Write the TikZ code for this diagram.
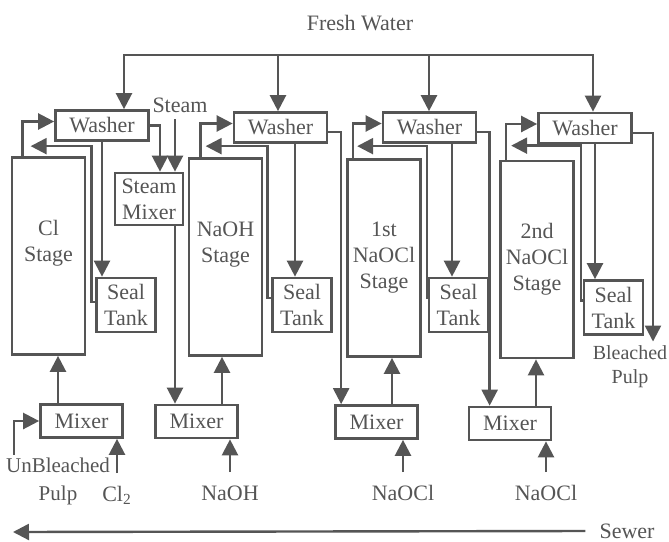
\documentclass[tikz,border=0pt]{standalone}
\usepackage{fontspec}
\setmainfont{Liberation Serif}
\usetikzlibrary{arrows.meta}
\definecolor{ink}{HTML}{555555}

\begin{document}
\begin{tikzpicture}[x=0.5pt,y=-0.5pt,
 every node/.style={text=ink,font=\fontsize{11}{13}\selectfont},
 unit/.style={draw=ink,line width=1.35pt,align=center,inner sep=1pt},
 washer/.style={unit,minimum width=46.5pt,minimum height=15pt},
 stage/.style={unit,minimum width=36.5pt,minimum height=98.5pt},
 stagetext/.style={align=center},
 sealtank/.style={unit,minimum width=29.5pt,minimum height=27pt},
 mixer/.style={unit,minimum width=41pt,minimum height=16.5pt},
 feed/.style={inner sep=1pt,outer sep=5pt,text height=8pt,text depth=2pt},
 pipe/.style={draw=ink,line width=1.2pt},
 flow/.style={pipe,-{Triangle[length=8pt,width=8pt]}}]
\useasboundingbox (0,0) rectangle (669,541);
% stages
\node[stage,label={[stagetext,yshift=6.25pt]center:{Cl\\Stage}}] (cl) at (48.5,256) {};
\node[stage,label={[stagetext,yshift=6.25pt]center:{NaOH\\Stage}}] (naoh) at (225.5,257) {};
\node[stage,label={[stagetext]center:{1st\\NaOCl\\Stage}}] (hypo1) at (384,258) {};
\node[stage,label={[stagetext]center:{2nd\\NaOCl\\Stage}}] (hypo2) at (537,259.5) {};
% washers
\node[washer] (w1) at (102,125.5) {Washer};
\node[washer] (w2) at (280.5,127.5) {Washer};
\node[washer] (w3) at (429.5,127.5) {Washer};
\node[washer] (w4) at (585,128) {Washer};
% steam mixer, seal tanks, mixers
\node[unit,minimum width=34pt,minimum height=26pt] (smix) at (149,199) {Steam\\Mixer};
\node[sealtank] (st1) at (126,305) {Seal\\Tank};
\node[sealtank] (st2) at (302,305) {Seal\\Tank};
\node[sealtank] (st3) at (458.5,305) {Seal\\Tank};
\node[sealtank] (st4) at (613.5,307.5) {Seal\\Tank};
\node[mixer] (m1) at (81.5,421) {Mixer};
\node[mixer] (m2) at (196.5,421.5) {Mixer};
\node[mixer] (m3) at (376.5,422) {Mixer};
\node[mixer] (m4) at (510,423.5) {Mixer};
% streams in and out
\node (fresh) at (360,23) {Fresh Water};
\node (steam) at (180,105) {Steam};
\node[align=center,inner sep=1pt,font=\fontsize{10.5}{14}\selectfont] (unbl) at (58,481) {UnBleached\\Pulp};
\node[feed] (cltwo) at (117,495) {Cl\textsubscript{2}};
\node[feed] (soda) at (230,494) {NaOH};
\node[feed] (hypoA) at (403,494) {NaOCl};
\node[feed] (hypoB) at (546,494) {NaOCl};
\node[align=center,inner sep=2pt,font=\fontsize{10}{12}\selectfont] (bleached) at (630,367) {Bleached\\Pulp};
\node (sewer) at (627,531) {Sewer};
\coordinate (drain) at (13,532);
% fresh water header
\coordinate (h1) at (124,55);
\coordinate (h2) at (278,55);
\coordinate (h3) at (429,55);
\coordinate (h4) at (593,55);
\draw[pipe,line cap=rect] (h1) -- (h4);
\draw[flow] (h1) -- (h1 |- w1.north);
\draw[flow] (h2) -- (h2 |- w2.north);
\draw[flow] (h3) -- (h3 |- w3.north);
\draw[flow] (h4) -- (h4 |- w4.north);
% stage outlets to washers
\draw[flow] ([xshift=6pt]cl.north west) |- ([yshift=2pt]w1.west);
\draw[flow] ([xshift=6.5pt]naoh.north west) |- ([yshift=2pt]w2.west);
\draw[flow] ([xshift=3.5pt]hypo1.north west) |- ([yshift=2pt]w3.west);
\draw[flow] ([xshift=3.5pt]hypo2.north west) |- ([yshift=2pt]w4.west);
% seal tank returns
\draw[flow] ([yshift=1.5pt]st1.west) -| ([xshift=2.5pt,yshift=5pt]cl.north east) -- ([xshift=10pt,yshift=5pt]cl.north west);
\draw[flow] ([yshift=3.5pt]st2.west) -| ([xshift=2pt,yshift=5.5pt]naoh.north east) -- ([xshift=9pt,yshift=5.5pt]naoh.north west);
\draw[flow] ([yshift=3.5pt]st3.west) -| ([xshift=2.5pt,yshift=6pt]hypo1.north east) -- ([xshift=5.5pt,yshift=6pt]hypo1.north west);
\draw[flow] ([yshift=3.5pt]st4.west) -| ([xshift=3pt,yshift=7pt]hypo2.north east) -- ([xshift=6pt,yshift=7pt]hypo2.north west);
% washers to seal tanks
\draw[flow] (w1.south) -- (w1.south |- st1.north);
\draw[flow] ([xshift=7.25pt]w2.south) -- ([xshift=7.25pt]w2.south |- st2.north);
\draw[flow] ([xshift=11.25pt]w3.south) -- ([xshift=11.25pt]w3.south |- st3.north);
\draw[flow] ([xshift=5pt]w4.south) -- ([xshift=5pt]w4.south |- st4.north);
% washer filtrate forward
\draw[flow] (w1.east) -| ([xshift=5.5pt]smix.north);
\draw[flow] ([xshift=-2.5pt]steam.south) -- ([xshift=-2.5pt]steam.south |- smix.north);
\draw[flow] ([xshift=13pt]smix.south) -- ([xshift=13pt]smix.south |- m2.north);
\draw[flow] ([yshift=-2.25pt]w2.east) -| ([xshift=3.5pt]m3.north west);
\draw[flow] ([yshift=-2.25pt]w3.east) -| ([xshift=11pt]m4.north west);
\draw[flow] ([yshift=-2.5pt]w4.east) -| ([xshift=11.5pt]bleached.north);
% mixers to stages
\draw[flow] ([xshift=-11.75pt]m1.north) -- ([xshift=-11.75pt]m1.north |- cl.south);
\draw[flow] ([xshift=12.75pt]m2.north) -- ([xshift=12.75pt]m2.north |- naoh.south);
\draw[flow] ([xshift=7.75pt]m3.north) -- ([xshift=7.75pt]m3.north |- hypo1.south);
\draw[flow] ([xshift=13pt]m4.north) -- ([xshift=13pt]m4.north |- hypo2.south);
% chemicals and pulp
\draw[flow] ([xshift=5pt]unbl.north west) |- (m1.west);
\draw[flow] (cltwo.north) -- (cltwo.north |- m1.south);
\draw[flow] (soda.north) -- (soda.north |- m2.south);
\draw[flow] (hypoA.north) -- (hypoA.north |- m3.south);
\draw[flow] (hypoB.north) -- (hypoB.north |- m4.south);
% sewer
\draw[flow] ([xshift=-3.5pt]sewer.west) -- (drain);
\end{tikzpicture}
\end{document}
